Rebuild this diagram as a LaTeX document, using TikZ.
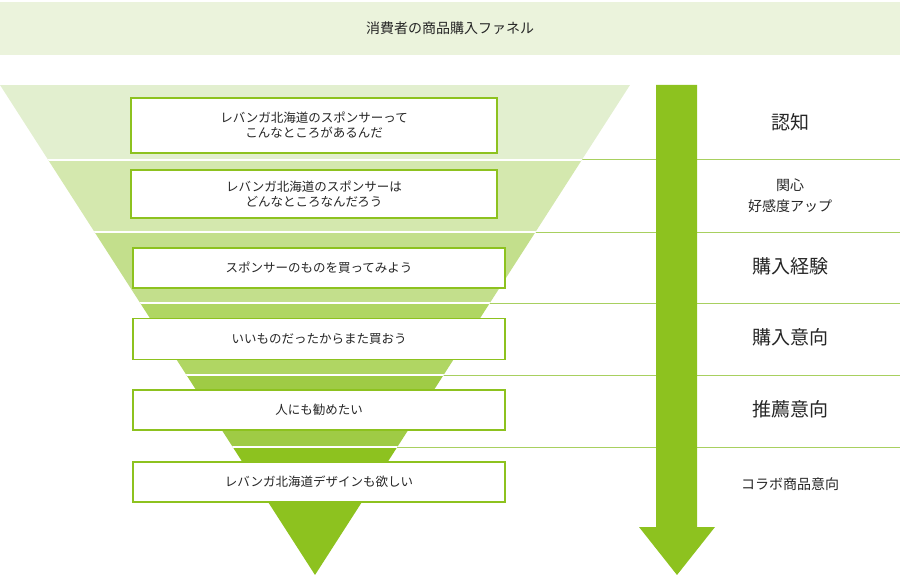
\documentclass[tikz,border=0pt]{standalone}
\usepackage{fontspec}
\setmainfont{Noto Sans CJK JP}
\definecolor{gA}{HTML}{E2EFCF}
\definecolor{gB}{HTML}{D4E8AE}
\definecolor{gC}{HTML}{C3DF8C}
\definecolor{gD}{HTML}{B0D663}
\definecolor{gE}{HTML}{9FCB45}
\definecolor{gF}{HTML}{8DC21F}
\definecolor{ttl}{HTML}{EBF3DC}
\definecolor{rl}{HTML}{A8D060}
\begin{document}
\begin{tikzpicture}[x=1pt,y=-1pt,
  box/.style={draw=gF,line width=1.5pt,fill=white,minimum width=366pt,align=center,font=\fontsize{12.5}{15}\selectfont,text=black!85},
  big/.style={font=\fontsize{19}{22}\selectfont,text=black!85},
  small/.style={font=\fontsize{14}{21}\selectfont,text=black!85,align=center}]
\useasboundingbox (0,0) rectangle (900,575);
\fill[ttl] (0,2) rectangle (900,55);
\node[font=\fontsize{14}{16}\selectfont,text=black!85] (title) at (450,28) {消費者の商品購入ファネル};
% right lines
\foreach \y/\x in {160/582,232/535.5,303/490,375/443.6,447/397.3}
  \draw[rl,line width=1pt] (\x,\y) -- (900,\y);
% funnel
\begin{scope}
\clip (0,85) -- (630,85) -- (315,575) -- cycle;
\fill[gA] (0,85) rectangle (630,160);
\fill[gB] (0,160) rectangle (630,232);
\fill[gC] (0,232) rectangle (630,303);
\fill[gD] (0,303) rectangle (630,375);
\fill[gE] (0,375) rectangle (630,447);
\fill[gF] (0,447) rectangle (630,575);
\foreach \y in {160,232,303,375,447} \draw[white,line width=2.5pt] (0,\y) -- (630,\y);
\end{scope}
% arrow
\fill[gF] (656,85) -- (697,85) -- (697,527) -- (715,527) -- (677,575) -- (639,527) -- (656,527) -- cycle;
% boxes
\node[box,minimum height=55pt] (b1) at (314,125.5) {レバンガ北海道のスポンサーって\\こんなところがあるんだ};
\node[box,minimum height=48pt] (b2) at (314,194) {レバンガ北海道のスポンサーは\\どんなところなんだろう};
\node[box,minimum width=372pt,minimum height=40pt] (b3) at (319,268) {スポンサーのものを買ってみよう};
\node[box,minimum width=372pt,minimum height=41pt] (b4) at (319,339) {いいものだったからまた買おう};
\node[box,minimum width=372pt,minimum height=40pt] (b5) at (319,410) {人にも勧めたい};
\node[box,minimum width=372pt,minimum height=40pt] (b6) at (319,482) {レバンガ北海道デザインも欲しい};
% labels
\node[big] (l1) at (790,122) {認知};
\node[small] (l2) at (790,196) {関心\\好感度アップ};
\node[big] (l3) at (790,266) {購入経験};
\node[big] (l4) at (790,337) {購入意向};
\node[big] (l5) at (790,409) {推薦意向};
\node[small] (l6) at (790,484) {コラボ商品意向};
\end{tikzpicture}
\end{document}
